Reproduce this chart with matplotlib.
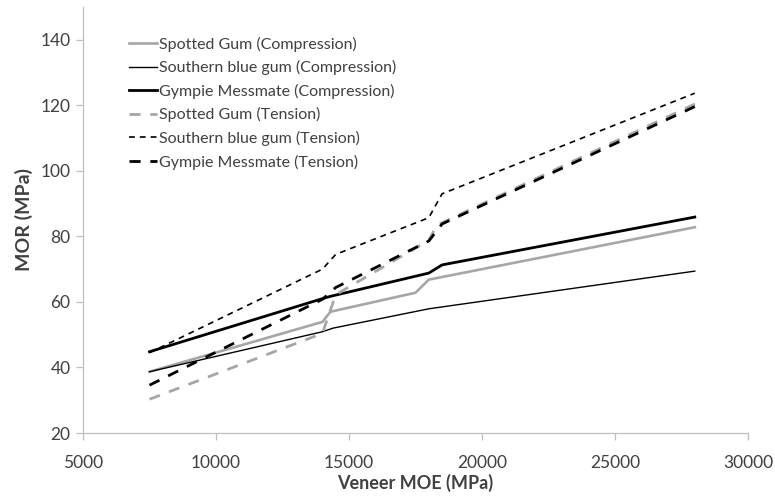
import matplotlib
matplotlib.use("Agg")
import matplotlib.pyplot as plt

plt.rcParams['font.family'] = ['Lato', 'DejaVu Sans']

# Data (Veneer MOE in MPa -> MOR in MPa)
sg_comp_x = [7500, 14000, 14300, 17500, 18000, 28000]
sg_comp_y = [38.7, 53.9, 57.0, 62.8, 66.8, 82.8]

sbg_comp_x = [7500, 14000, 14400, 18000, 28000]
sbg_comp_y = [38.7, 50.9, 52.0, 57.9, 69.4]

gm_comp_x = [7500, 14000, 14300, 18000, 18500, 28000]
gm_comp_y = [44.8, 61.0, 61.7, 68.8, 71.3, 85.9]

sg_ten_x = [7500, 14000, 14500, 18000, 18300, 28000]
sg_ten_y = [30.3, 50.4, 62.2, 78.8, 83.4, 120.4]

sbg_ten_x = [7500, 14000, 14500, 18000, 18500, 28000]
sbg_ten_y = [44.5, 70.0, 74.5, 85.7, 93.0, 123.7]

gm_ten_x = [7500, 14000, 14500, 18000, 18500, 28000]
gm_ten_y = [34.6, 60.8, 64.4, 78.6, 83.8, 119.6]

labels = ["Spotted Gum (Compression)", "Southern blue gum (Compression)",
          "Gympie Messmate (Compression)", "Spotted Gum (Tension)",
          "Southern blue gum (Tension)", "Gympie Messmate (Tension)"]

x_ticks = [5000, 10000, 15000, 20000, 25000, 30000]
y_ticks = [20, 40, 60, 80, 100, 120, 140]

gray = "#a6a6a6"
txt = "#404040"

fig = plt.figure(figsize=(7.75, 5.01), dpi=100)
ax = fig.add_axes([83/775, 1-433/501, 665/775, 426/501])

ax.plot(sg_comp_x, sg_comp_y, color=gray, lw=1.9, label=labels[0])
ax.plot(sbg_comp_x, sbg_comp_y, color="black", lw=1.0, label=labels[1])
ax.plot(gm_comp_x, gm_comp_y, color="black", lw=2.0, label=labels[2])
ax.plot(sg_ten_x, sg_ten_y, color=gray, lw=2.0, dashes=(4, 3.5), label=labels[3])
ax.plot(sbg_ten_x, sbg_ten_y, color="black", lw=1.2, dashes=(3.5, 3), label=labels[4])
ax.plot(gm_ten_x, gm_ten_y, color="black", lw=2.0, dashes=(4, 3.5), label=labels[5])

ax.set_xlim(5000, 30000)
ax.set_ylim(20, 150)
ax.set_xticks(x_ticks)
ax.set_yticks(y_ticks)
for s in ["top", "right"]:
    ax.spines[s].set_visible(False)
for s in ["left", "bottom"]:
    ax.spines[s].set_color("#bfbfbf")
    ax.spines[s].set_linewidth(0.9)
ax.tick_params(axis="both", colors="#bfbfbf", labelcolor=txt, labelsize=12.5, length=5, width=0.9)
ax.tick_params(axis="x", pad=11)
ax.tick_params(axis="y", pad=4)

ax.set_xlabel("Veneer MOE (MPa)", fontsize=13, fontweight="bold", color=txt, labelpad=2)
ax.set_ylabel("MOR (MPa)", fontsize=14, fontweight="bold", color=txt, labelpad=5)

leg = ax.legend(loc="upper left", bbox_to_anchor=(0.06, 0.945), frameon=False,
                handlelength=1.75, handletextpad=0.1, labelspacing=0.53,
                fontsize=11.5, borderaxespad=0)
for t in leg.get_texts():
    t.set_color(txt)

fig.savefig("out.png", dpi=100)
